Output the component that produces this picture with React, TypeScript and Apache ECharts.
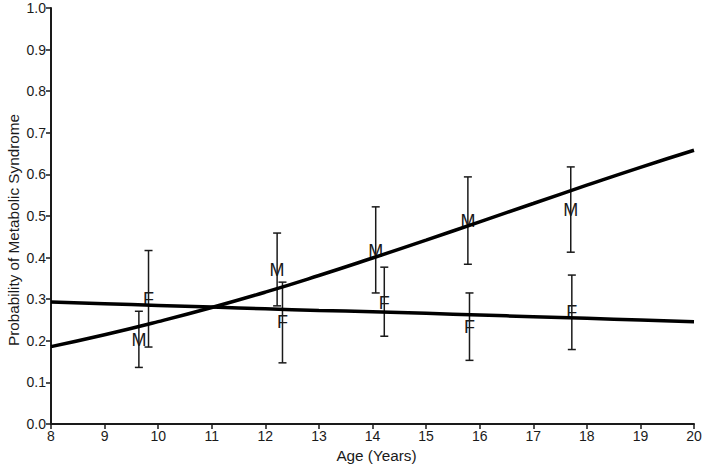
import React, { useEffect, useRef } from "react";
import * as echarts from "echarts";

const curveAges = [8, 9, 10, 11, 12, 13, 14, 15, 16, 17, 18, 19, 20];
const maleCurve = [0.186, 0.2145, 0.246, 0.28, 0.317, 0.357, 0.399, 0.442, 0.486, 0.53, 0.574, 0.617, 0.658];
const femaleCurve = [0.293, 0.289, 0.285, 0.281, 0.277, 0.273, 0.27, 0.266, 0.262, 0.258, 0.254, 0.25, 0.246];

const maleAge = [9.64, 12.22, 14.06, 15.78, 17.7];
const maleMid = [0.203, 0.371, 0.417, 0.489, 0.515];
const maleLow = [0.136, 0.284, 0.315, 0.384, 0.413];
const maleHigh = [0.271, 0.459, 0.522, 0.594, 0.618];

const femaleAge = [9.82, 12.32, 14.22, 15.81, 17.72];
const femaleMid = [0.3, 0.244, 0.292, 0.234, 0.269];
const femaleLow = [0.185, 0.147, 0.211, 0.153, 0.179];
const femaleHigh = [0.417, 0.341, 0.377, 0.315, 0.358];

const FONT = "'Liberation Sans', Arial, sans-serif";
const INK = "#1a1a1a";

function errorSeries(name: string, letter: string, ages: number[], mids: number[], lows: number[], highs: number[]) {
  return {
    name,
    type: "custom",
    z: 3,
    itemStyle: { color: INK },
    data: ages.map((a, i) => [a, mids[i], lows[i], highs[i]]),
    renderItem: (params: any, api: any) => {
      const x = api.value(0);
      const mid = api.coord([x, api.value(1)]);
      const lo = api.coord([x, api.value(2)]);
      const hi = api.coord([x, api.value(3)]);
      const cap = 4;
      const style = { stroke: INK, lineWidth: 1.5 };
      return {
        type: "group",
        children: [
          { type: "line", shape: { x1: lo[0], y1: lo[1], x2: hi[0], y2: hi[1] }, style },
          { type: "line", shape: { x1: lo[0] - cap, y1: lo[1], x2: lo[0] + cap, y2: lo[1] }, style },
          { type: "line", shape: { x1: hi[0] - cap, y1: hi[1], x2: hi[0] + cap, y2: hi[1] }, style },
          {
            type: "text",
            x: mid[0],
            y: mid[1],
            style: {
              text: letter,
              fill: INK,
              fontFamily: FONT,
              fontSize: 18,
              align: "center",
              verticalAlign: "middle",
            },
          },
        ],
      };
    },
  };
}

export default function App() {
  const ref = useRef<HTMLDivElement>(null);
  useEffect(() => {
    if (!ref.current) return;
    const chart = echarts.init(ref.current, null, { renderer: "svg" });
    chart.setOption({
      animation: false,
      backgroundColor: "#ffffff",
      grid: { left: 51, right: 12, top: 8, bottom: 46, containLabel: false },
      graphic: [
        {
          type: "text",
          x: 13,
          y: 230,
          rotation: Math.PI / 2,
          style: {
            text: "Probability of Metabolic Syndrome",
            fill: INK,
            fontFamily: FONT,
            fontSize: 15.3,
            align: "center",
            verticalAlign: "middle",
          },
        },
      ],
      xAxis: {
        type: "value",
        min: 8,
        max: 20,
        interval: 1,
        name: "Age (Years)",
        nameLocation: "middle",
        nameGap: 22,
        nameTextStyle: { fontFamily: FONT, fontSize: 15.3, color: INK, padding: [0, 0, 0, 8] },
        axisLine: { show: true, lineStyle: { color: INK, width: 2 } },
        axisTick: { show: true, length: 5, lineStyle: { color: INK, width: 1.5 } },
        axisLabel: { fontFamily: FONT, fontSize: 14, color: INK, margin: 5 },
        splitLine: { show: false },
      },
      yAxis: {
        type: "value",
        min: 0,
        max: 1,
        interval: 0.1,
        axisLine: { show: true, lineStyle: { color: INK, width: 2 } },
        axisTick: { show: true, length: 5, lineStyle: { color: INK, width: 1.5 } },
        axisLabel: {
          fontFamily: FONT,
          fontSize: 14,
          color: INK,
          margin: 5,
          formatter: (v: number) => v.toFixed(1),
        },
        splitLine: { show: false },
      },
      series: [
        errorSeries("Male", "M", maleAge, maleMid, maleLow, maleHigh),
        errorSeries("Female", "F", femaleAge, femaleMid, femaleLow, femaleHigh),
        {
          name: "Male fit",
          type: "line",
          z: 4,
          smooth: true,
          symbol: "none",
          data: curveAges.map((a, i) => [a, maleCurve[i]]),
          lineStyle: { color: "#000", width: 3.5 },
        },
        {
          name: "Female fit",
          type: "line",
          z: 4,
          smooth: true,
          symbol: "none",
          data: curveAges.map((a, i) => [a, femaleCurve[i]]),
          lineStyle: { color: "#000", width: 3.5 },
        },
      ],
    });
    return () => chart.dispose();
  }, []);
  return <div ref={ref} style={{ width: 706, height: 470, position: "absolute", left: 0, top: 0 }} />;
}
